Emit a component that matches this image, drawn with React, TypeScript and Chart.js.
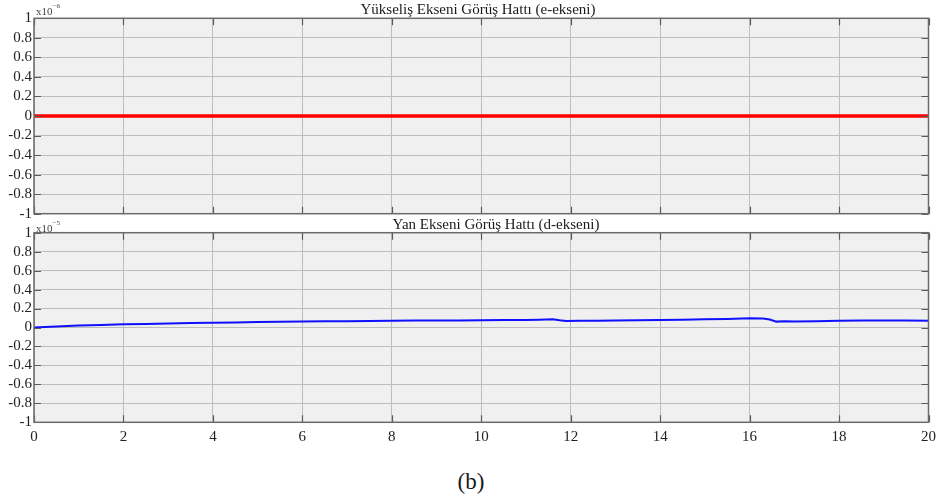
import React, { useEffect, useRef } from "react";
import { Chart, registerables } from "chart.js";

Chart.register(...registerables);

// ---------- data ----------
const TOP_TITLE = "Yükseliş Ekseni Görüş Hattı (e-ekseni)";
const BOTTOM_TITLE = "Yan Ekseni Görüş Hattı (d-ekseni)";
const TOP_EXP = "−6";
const BOTTOM_EXP = "−5";
const CAPTION = "(b)";

const X_TICKS = [0, 2, 4, 6, 8, 10, 12, 14, 16, 18, 20];
const Y_TICKS = [1, 0.8, 0.6, 0.4, 0.2, 0, -0.2, -0.4, -0.6, -0.8, -1];

const TOP_X = [0, 1, 2, 3, 4, 5, 6, 7, 8, 9, 10, 11, 12, 13, 14, 15, 16, 17, 18, 19, 20];
const TOP_Y = [0, 0, 0, 0, 0, 0, 0, 0, 0, 0, 0, 0, 0, 0, 0, 0, 0, 0, 0, 0, 0];

const BOT_X = [
  0, 0.5, 1, 1.5, 2, 2.5, 3, 3.5, 4, 4.5, 5, 5.5, 6, 6.5, 7, 7.5, 8, 8.5, 9, 9.5,
  10, 10.5, 11, 11.3, 11.6, 11.75, 11.9, 12.2, 12.6, 13, 13.5, 14, 14.5, 15, 15.5,
  16, 16.3, 16.45, 16.6, 16.8, 17, 17.5, 18, 18.5, 19, 19.5, 20,
];
const BOT_Y = [
  0, 0.01, 0.02, 0.027, 0.033, 0.038, 0.043, 0.047, 0.051, 0.054, 0.057, 0.06, 0.063,
  0.065, 0.067, 0.069, 0.071, 0.073, 0.074, 0.075, 0.077, 0.078, 0.08, 0.083, 0.086,
  0.076, 0.068, 0.07, 0.072, 0.074, 0.076, 0.078, 0.082, 0.086, 0.09, 0.097, 0.095,
  0.085, 0.062, 0.066, 0.064, 0.067, 0.071, 0.073, 0.073, 0.073, 0.072,
];

// ---------- styling ----------
const FONT = "'Liberation Serif', 'Times New Roman', serif";
const W = 939;
const Y_AXIS_W = 34;
const PAD_RIGHT = 10.5;

const framePlugin = {
  id: "frame",
  beforeDraw(chart: any) {
    const { ctx, chartArea: a } = chart;
    ctx.save();
    ctx.fillStyle = "#f0f0f0";
    ctx.fillRect(a.left, a.top, a.right - a.left, a.bottom - a.top);
    ctx.restore();
  },
  afterDatasetsDraw(chart: any) {
    const { ctx, chartArea: a, scales } = chart;
    ctx.save();
    ctx.strokeStyle = "#5a5a5a";
    ctx.lineWidth = 1.2;
    const L = 7;
    ctx.beginPath();
    for (const v of X_TICKS) {
      const px = Math.round(scales.x.getPixelForValue(v)) + 0.5;
      ctx.moveTo(px, a.bottom);
      ctx.lineTo(px, a.bottom - L);
      ctx.moveTo(px, a.top);
      ctx.lineTo(px, a.top + L);
    }
    for (const v of Y_TICKS) {
      const py = Math.round(scales.y.getPixelForValue(v)) + 0.5;
      ctx.moveTo(a.left, py);
      ctx.lineTo(a.left + L, py);
      ctx.moveTo(a.right, py);
      ctx.lineTo(a.right - L, py);
    }
    ctx.stroke();
    ctx.strokeStyle = "#6a6a6a";
    ctx.lineWidth = 1.5;
    ctx.strokeRect(a.left, a.top, a.right - a.left, a.bottom - a.top);
    ctx.restore();
  },
};

function makeConfig(xs: number[], ys: number[], color: string, width: number, topPad: number, xAxisH: number, showX: boolean) {
  return {
    type: "line" as const,
    data: {
      datasets: [
        {
          data: xs.map((x, i) => ({ x, y: ys[i] })),
          borderColor: color,
          borderWidth: width,
          pointRadius: 0,
          tension: 0,
          fill: false,
        },
      ],
    },
    options: {
      responsive: false,
      animation: false as const,
      devicePixelRatio: 1,
      layout: { padding: { left: 0, right: PAD_RIGHT, top: topPad, bottom: 0 } },
      plugins: { legend: { display: false }, title: { display: false }, tooltip: { enabled: false } },
      scales: {
        x: {
          type: "linear" as const,
          min: 0,
          max: 20,
          afterBuildTicks: (axis: any) => {
            axis.ticks = X_TICKS.map((v) => ({ value: v }));
          },
          afterFit: (s: any) => {
            s.height = xAxisH;
            s.paddingLeft = 0;
            s.paddingRight = 0;
            s.paddingTop = 0;
            s.paddingBottom = 0;
          },
          grid: { color: "#bdbdbd", lineWidth: 1, drawTicks: false },
          border: { display: false },
          ticks: {
            display: showX,
            padding: 6,
            maxRotation: 0,
            autoSkip: false,
            color: "#222",
            font: { family: FONT, size: 15 },
            callback: (v: any) => String(v),
          },
        },
        y: {
          type: "linear" as const,
          min: -1,
          max: 1,
          afterBuildTicks: (axis: any) => {
            axis.ticks = Y_TICKS.map((v) => ({ value: v }));
          },
          afterFit: (s: any) => {
            s.width = Y_AXIS_W;
            s.paddingLeft = 0;
            s.paddingRight = 0;
            s.paddingTop = 0;
            s.paddingBottom = 0;
          },
          grid: { color: "#bdbdbd", lineWidth: 1, drawTicks: false },
          border: { display: false },
          ticks: {
            padding: 2,
            autoSkip: false,
            color: "#222",
            font: { family: FONT, size: 15 },
            callback: (v: any) => String(Math.round(v * 10) / 10),
          },
        },
      },
    },
    plugins: [framePlugin],
  };
}

function ChartCanvas({ top, height, config }: { top: number; height: number; config: any }) {
  const ref = useRef<HTMLCanvasElement>(null);
  useEffect(() => {
    if (!ref.current) return;
    const c = new Chart(ref.current, config);
    return () => c.destroy();
  }, []);
  return (
    <canvas
      ref={ref}
      width={W}
      height={height}
      style={{ position: "absolute", left: 0, top, width: W, height }}
    />
  );
}

const textBase: React.CSSProperties = {
  position: "absolute",
  fontFamily: FONT,
  color: "#1a1a1a",
  whiteSpace: "nowrap",
  lineHeight: 1,
};

export default function App() {
  const topCfg = makeConfig(TOP_X, TOP_Y, "#ff0000", 3.5, 18.3, 8.3, false);
  const botCfg = makeConfig(BOT_X, BOT_Y, "#1010ff", 2, 18.7, 37.7, true);
  return (
    <div style={{ position: "absolute", left: 0, top: 0, width: W, height: 501, background: "#fff", overflow: "hidden" }}>
      <ChartCanvas top={0} height={222} config={topCfg} />
      <ChartCanvas top={214} height={246} config={botCfg} />
      <div style={{ ...textBase, left: 478, top: 2, transform: "translateX(-50%)", fontSize: 15 }}>{TOP_TITLE}</div>
      <div style={{ ...textBase, left: 496, top: 217, transform: "translateX(-50%)", fontSize: 15 }}>{BOTTOM_TITLE}</div>
      <div style={{ ...textBase, left: 36, top: 6, fontSize: 11, color: "#444" }}>
        x10<sup style={{ fontSize: 7, verticalAlign: "top", position: "relative", top: -3 }}>{TOP_EXP}</sup>
      </div>
      <div style={{ ...textBase, left: 36, top: 223, fontSize: 11, color: "#444" }}>
        x10<sup style={{ fontSize: 7, verticalAlign: "top", position: "relative", top: -3 }}>{BOTTOM_EXP}</sup>
      </div>
      <div style={{ ...textBase, left: 471, top: 470, transform: "translateX(-50%)", fontSize: 23 }}>{CAPTION}</div>
    </div>
  );
}
